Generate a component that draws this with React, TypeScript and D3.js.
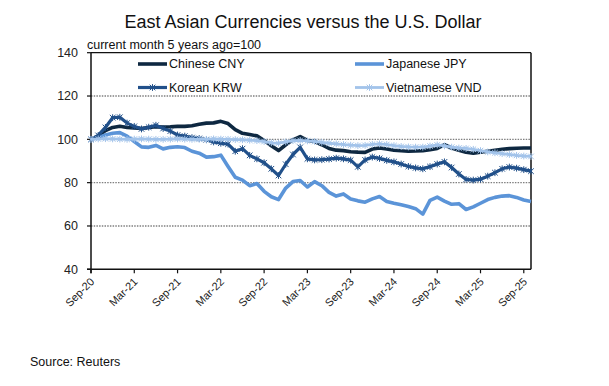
import React from "react";
import * as d3 from "d3";

const seriesNames = ["Chinese CNY", "Japanese JPY", "Korean KRW", "Vietnamese VND"];

// monthly index values, Sep-20 .. Oct-25
const cny = [100, 101.5, 104, 105.5, 106, 105.5, 105.3, 105, 105.5, 105.8, 105.7, 105.8, 106, 106, 106.3, 107, 107.5, 107.6, 108.3, 107.3, 104.5, 102.8, 102.2, 101.6, 99.5, 97, 94.8, 97.5, 99.8, 101.3, 99.5, 99, 97.5, 95.8, 95, 94.8, 94.3, 94.1, 94, 95.5, 96, 95.5, 95, 94.7, 94.5, 94.6, 94.8, 95.2, 95.8, 97.5, 96, 95, 94, 93.6, 94, 94.5, 95, 95.4, 95.7, 95.9, 96, 96];
const jpy = [100, 100.8, 102, 102.8, 103.1, 101.5, 99, 96.5, 96.3, 97.2, 95.6, 96.3, 96.6, 96.2, 94.5, 93.6, 91.8, 92, 92.7, 87.5, 82.5, 81.2, 78.6, 79.6, 76, 73.5, 72.2, 77.5, 80.5, 81, 78, 80.5, 78.6, 75.5, 73.8, 74.8, 72.5, 71.6, 71, 72.5, 73.6, 71.3, 70.5, 69.8, 69, 68, 65.5, 71.8, 73.3, 71.5, 70, 70.3, 67.6, 68.8, 70.5, 72.2, 73.2, 73.8, 74, 73.2, 72, 71.3];
const krw = [100, 101.8, 105.5, 110, 110.2, 107.5, 106, 104.8, 105.6, 106.5, 105, 103.8, 102, 101.5, 100.8, 100.4, 99.8, 98.8, 98.2, 97.8, 94.5, 95.7, 92.6, 91, 89.2, 86.4, 83.3, 88.5, 93, 96.3, 91, 90.5, 90.6, 90.9, 91.3, 91, 90.4, 87.3, 90.5, 91.8, 91.2, 90.3, 89.6, 88.6, 87.5, 86.8, 86.4, 87.4, 88.6, 89.6, 87, 84, 81.5, 81.2, 81.6, 83, 84.6, 86.4, 87.2, 86.7, 86, 85.3];
const vnd = [100, 100.2, 100.3, 100.2, 100.1, 100, 100.1, 100.2, 100.1, 100, 100, 100.1, 100.2, 100.1, 100, 100, 100, 100.2, 100.1, 100, 99.9, 99.8, 99.6, 99.4, 99, 98.4, 98.2, 98.8, 99.4, 99.5, 99.3, 99, 98.6, 98.2, 97.9, 97.6, 97.3, 97.1, 97.2, 97.7, 97.9, 97.6, 97.1, 96.7, 96.5, 96.4, 96.4, 96.9, 97.4, 97, 96.4, 96, 95.8, 95.4, 94.8, 94.2, 93.8, 93.4, 93, 92.6, 92.3, 92.1];

const xTickLabels = ["Sep-20", "Mar-21", "Sep-21", "Mar-22", "Sep-22", "Mar-23", "Sep-23", "Mar-24", "Sep-24", "Mar-25", "Sep-25"];
const xTickMonths = [0, 6, 12, 18, 24, 30, 36, 42, 48, 54, 60];
const yTicks = [40, 60, 80, 100, 120, 140];
const gridValues = [60, 80, 100, 120];

const title = "East Asian Currencies versus the U.S. Dollar";
const subtitle = "current month 5 years ago=100";
const source = "Source: Reuters";

const FONT = "'Liberation Sans', Arial, sans-serif";

export default function App() {
  const W = 609, H = 386;
  const left = 91, right = 531, top = 52.7, bottom = 269.3;
  const x = d3.scaleLinear().domain([0, 61]).range([left, right]);
  const y = d3.scaleLinear().domain([40, 140]).range([bottom, top]);
  const line = d3.line<number>().x((_, i) => x(i)).y((d) => y(d));

  const series = [
    { name: seriesNames[0], data: cny, color: "#0e2841", width: 3.6, marker: false },
    { name: seriesNames[1], data: jpy, color: "#5b94d8", width: 3.6, marker: false },
    { name: seriesNames[2], data: krw, color: "#21508a", width: 3.2, marker: true },
    { name: seriesNames[3], data: vnd, color: "#a2c3ea", width: 2.8, marker: true },
  ];
  const star = "M-2.8,-2.8L2.8,2.8M-2.8,2.8L2.8,-2.8M0,-3.4L0,3.4";

  const legendPos = [
    { lx: 138, ly: 64 },
    { lx: 355, ly: 64 },
    { lx: 138, ly: 87.5 },
    { lx: 355, ly: 87.5 },
  ];

  return (
    <svg width={W} height={H} style={{ position: "absolute", left: 0, top: 0, background: "#fff" }} fontFamily={FONT}>
      <rect x={0} y={0} width={W} height={H} fill="#fff" />
      <text x={303} y={28} fontSize={18} textAnchor="middle" fill="#111">{title}</text>
      <text x={87} y={49} fontSize={12.5} fill="#111">{subtitle}</text>

      {gridValues.map((g) => (
        <line key={g} x1={left} x2={right} y1={y(g)} y2={y(g)} stroke="#808080" strokeWidth={1.3} strokeDasharray="1.5 1.2" />
      ))}

      {/* frame */}
      <line x1={left} x2={right} y1={top} y2={top} stroke="#111" strokeWidth={1.2} />
      <line x1={right} x2={right} y1={top} y2={bottom} stroke="#111" strokeWidth={1.5} />
      <line x1={left} x2={left} y1={top} y2={bottom + 4} stroke="#111" strokeWidth={1.5} />
      <line x1={left - 4} x2={right} y1={bottom} y2={bottom} stroke="#111" strokeWidth={1.5} />

      {yTicks.map((t) => (
        <g key={t}>
          <line x1={left - 4} x2={left} y1={y(t)} y2={y(t)} stroke="#111" strokeWidth={1.2} />
          <text x={left - 13} y={y(t)} dy="0.35em" fontSize={12.5} textAnchor="end" fill="#222">{t}</text>
        </g>
      ))}

      {xTickMonths.map((m, i) => (
        <g key={m}>
          <line x1={x(m)} x2={x(m)} y1={bottom} y2={bottom + 4} stroke="#111" strokeWidth={1.2} />
          <text
            transform={`translate(${x(m) + 4},${bottom + 13}) rotate(-45)`}
            fontSize={11}
            textAnchor="end"
            fill="#222"
          >
            {xTickLabels[i]}
          </text>
        </g>
      ))}

      {series.map((s) => (
        <g key={s.name}>
          <path d={line(s.data) || ""} fill="none" stroke={s.color} strokeWidth={s.width} strokeLinejoin="round" />
          {s.marker &&
            s.data.map((v, i) => (
              <path key={i} d={star} transform={`translate(${x(i)},${y(v)})`} stroke={s.color} strokeWidth={1} fill="none" />
            ))}
        </g>
      ))}

      {series.map((s, i) => {
        const p = legendPos[i];
        return (
          <g key={"lg" + s.name}>
            <line x1={p.lx} x2={p.lx + 29} y1={p.ly} y2={p.ly} stroke={s.color} strokeWidth={s.width} />
            {s.marker && <path d={star} transform={`translate(${p.lx + 14.5},${p.ly})`} stroke={s.color} strokeWidth={1} fill="none" />}
            <text x={p.lx + 31} y={p.ly} dy="0.35em" fontSize={12.5} fill="#111">{s.name}</text>
          </g>
        );
      })}

      <text x={30} y={366} fontSize={12.5} fill="#111">{source}</text>
    </svg>
  );
}
